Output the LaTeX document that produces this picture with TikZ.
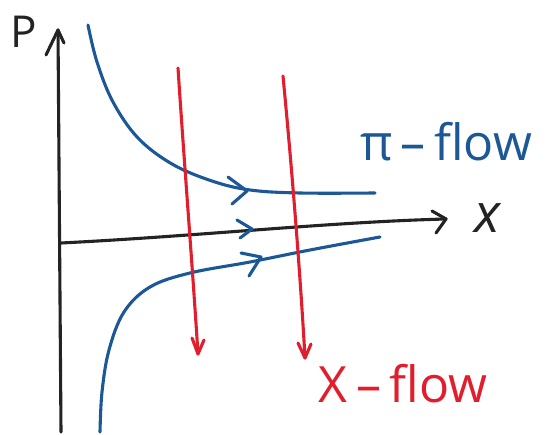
\documentclass[tikz,border=0pt]{standalone}
\usepackage{fontspec}
\setmainfont{Open Sans}
\usetikzlibrary{arrows.meta}
\definecolor{penblue}{RGB}{28,88,150}
\definecolor{penred}{RGB}{225,30,45}
\definecolor{penblack}{RGB}{35,35,35}
\begin{document}
\begin{tikzpicture}[x=1pt,y=-1pt,
  stroke/.style={line width=3.1pt,line cap=round,line join=round},
  axisline/.style={stroke,penblack},
  flowline/.style={stroke,penblue},
  xline/.style={stroke,penred},
  lab/.style={inner sep=0pt,font=\fontsize{50}{58}\selectfont}]
\useasboundingbox (0,0) rectangle (548,435);
% axes
\coordinate (ybot) at (61,432);
\coordinate (ytop) at (58,30);
\coordinate (xl) at (61,243);
\coordinate (xr) at (446,219);
\draw[axisline] (ybot) -- (ytop);
\draw[axisline] (ytop) ++(-12,25) -- (ytop) -- ++(6,13);
\draw[axisline] (xl) .. controls (200,236) and (330,222) .. (xr);
\draw[axisline] (xr) ++(-14,-8) -- (xr) -- ++(-10,14);
\node[lab,penblack,font=\fontsize{44}{50}\selectfont] (P) at (24,32) {P};
\node[lab,penblack,font=\fontsize{54}{60}\itshape] (X) at (487,218) {x};
% pi-flow curves
\draw[flowline] plot[smooth,tension=0.6] coordinates {(88,25) (97,62) (113,102) (138,138) (172,164) (212,181) (250,190) (300,193) (375,193)};
\draw[flowline] plot[smooth,tension=0.6] coordinates {(100,432) (102,392) (109,350) (124,312) (150,287) (190,273) (250,262) (310,250) (380,237)};
\coordinate (a1) at (247,191);
\coordinate (a2) at (252,229);
\coordinate (a3) at (261,257);
\draw[flowline] (a1) ++(-19,-14) -- (a1) -- ++(-15,13);
\draw[flowline] (a2) ++(-15,-9) -- (a2) -- ++(-12,9);
\draw[flowline] (a3) ++(-20,-4) -- (a3) -- ++(-12,19);
% X-flow lines
\coordinate (r1t) at (178,68);
\coordinate (r1b) at (198,354);
\coordinate (r2t) at (283,76);
\coordinate (r2b) at (305,358);
\draw[xline] (r1t) .. controls (184,160) and (192,260) .. (r1b);
\draw[xline] (r1b) ++(-6,-16) -- (r1b) -- ++(6,-14);
\draw[xline] (r2t) .. controls (292,170) and (300,270) .. (r2b);
\draw[xline] (r2b) ++(-7,-15) -- (r2b) -- ++(6,-14);
\node[lab,penblue] (pi) at (446,142) {π\,–\,flow};
\node[lab,penred] (xf) at (403,384) {X\,–\,flow};
\end{tikzpicture}
\end{document}
